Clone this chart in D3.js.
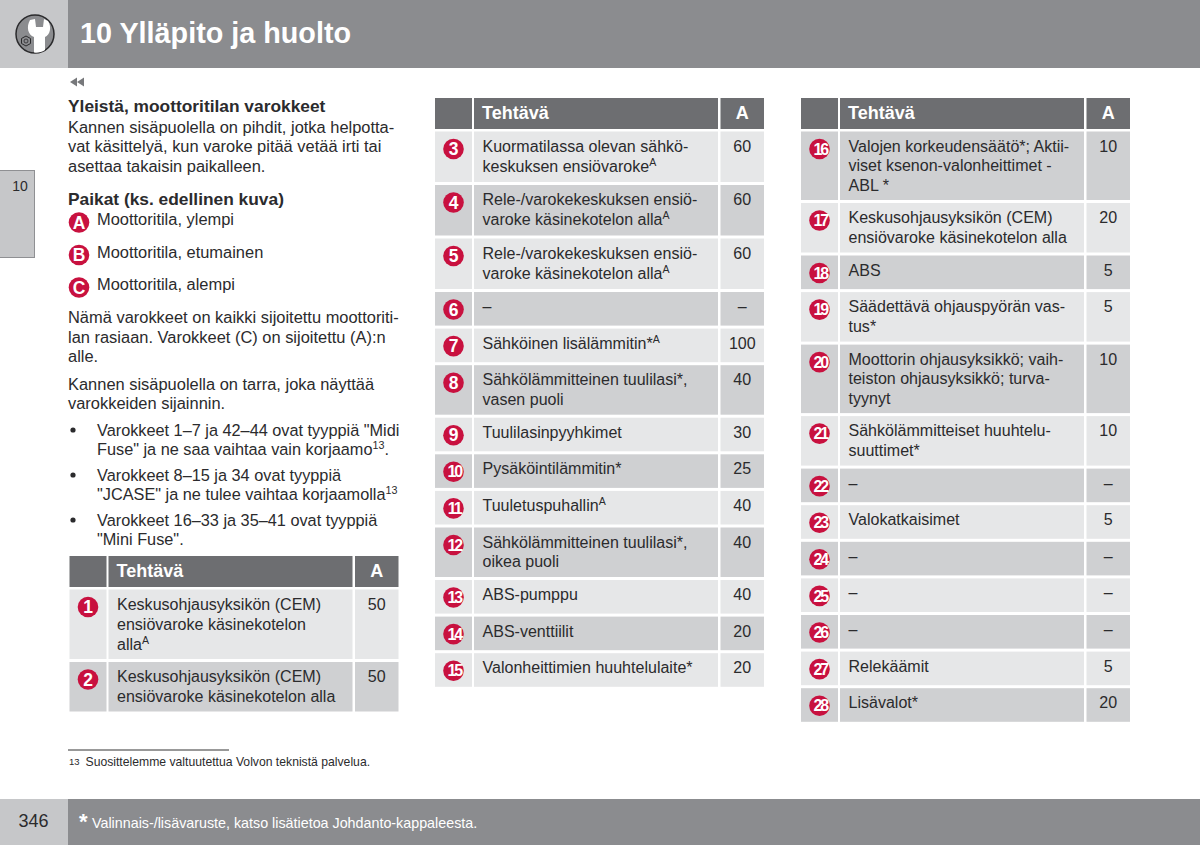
<!DOCTYPE html>
<html>
<head>
<meta charset="utf-8">
<script src="https://cdn.jsdelivr.net/npm/d3@7"></script>
<style>
  html, body { margin: 0; padding: 0; background: #fff; }
  svg { display: block; }
  text { font-family: "Liberation Sans", Arial, sans-serif; }
</style>
</head>
<body>
<div id="page"></div>
<script>
// Données des trois tableaux (^A = exposant)
const fuseNumbersLeft = [1, 2];
const fuseNumbersMiddle = [3, 4, 5, 6, 7, 8, 9, 10, 11, 12, 13, 14, 15];
const fuseNumbersRight = [16, 17, 18, 19, 20, 21, 22, 23, 24, 25, 26, 27, 28];

const fuseTasksLeft = [
  ["Keskusohjausyksikön (CEM)", "ensiövaroke käsinekotelon", "alla^A"],
  ["Keskusohjausyksikön (CEM)", "ensiövaroke käsinekotelon alla"],
];
const fuseTasksMiddle = [
  ["Kuormatilassa olevan sähkö-", "keskuksen ensiövaroke^A"],
  ["Rele-/varokekeskuksen ensiö-", "varoke käsinekotelon alla^A"],
  ["Rele-/varokekeskuksen ensiö-", "varoke käsinekotelon alla^A"],
  ["–"],
  ["Sähköinen lisälämmitin*^A"],
  ["Sähkölämmitteinen tuulilasi*,", "vasen puoli"],
  ["Tuulilasinpyyhkimet"],
  ["Pysäköintilämmitin*"],
  ["Tuuletuspuhallin^A"],
  ["Sähkölämmitteinen tuulilasi*,", "oikea puoli"],
  ["ABS-pumppu"],
  ["ABS-venttiilit"],
  ["Valonheittimien huuhtelulaite*"],
];
const fuseTasksRight = [
  ["Valojen korkeudensäätö*; Aktii-", "viset ksenon-valonheittimet -", "ABL *"],
  ["Keskusohjausyksikön (CEM)", "ensiövaroke käsinekotelon alla"],
  ["ABS"],
  ["Säädettävä ohjauspyörän vas-", "tus*"],
  ["Moottorin ohjausyksikkö; vaih-", "teiston ohjausyksikkö; turva-", "tyynyt"],
  ["Sähkölämmitteiset huuhtelu-", "suuttimet*"],
  ["–"],
  ["Valokatkaisimet"],
  ["–"],
  ["–"],
  ["–"],
  ["Relekäämit"],
  ["Lisävalot*"],
];

const ampsLeft = ["50", "50"];
const ampsMiddle = ["60", "60", "60", "–", "100", "40", "30", "25", "40", "40", "40", "20", "20"];
const ampsRight = ["10", "20", "5", "5", "10", "10", "–", "5", "–", "–", "–", "5", "20"];

const headerLabels = ["", "Tehtävä", "A"];

// Textes de la colonne de gauche
const introLines = ["Kannen sisäpuolella on pihdit, jotka helpotta-", "vat käsittelyä, kun varoke pitää vetää irti tai", "asettaa takaisin paikalleen."];
const placeLetters = ["A", "B", "C"];
const placeNames = ["Moottoritila, ylempi", "Moottoritila, etumainen", "Moottoritila, alempi"];
const noteLines = ["Nämä varokkeet on kaikki sijoitettu moottoriti-", "lan rasiaan. Varokkeet (C) on sijoitettu (A):n", "alle."];
const labelLines = ["Kannen sisäpuolella on tarra, joka näyttää", "varokkeiden sijainnin."];
const bulletLines = [
  ["Varokkeet 1–7 ja 42–44 ovat tyyppiä \"Midi", "Fuse\" ja ne saa vaihtaa vain korjaamo^13^."],
  ["Varokkeet 8–15 ja 34 ovat tyyppiä", "\"JCASE\" ja ne tulee vaihtaa korjaamolla^13"],
  ["Varokkeet 16–33 ja 35–41 ovat tyyppiä", "\"Mini Fuse\"."],
];

// Couleurs
const stripGrey = "#8b8c8f";
const paleGrey = "#c6c7c9";
const headGrey = "#6d6e71";
const rowLight = "#e6e7e8";
const rowDark = "#cfd0d2";
const crimson = "#c8113f";
const ink = "#2b2b2d";

const width = 1200;
const height = 845;
const lineHeight = 19.5;
const rowGap = 3;
const bodySize = 16.45;
const bulletSize = 16.3;
const cellSize = 16.05;
// Hauteur d'une ligne de tableau selon le nombre de lignes de texte
const rowHeights = { 1: 33.6, 2: 49.5, 3: 68.5 };

const svg = d3.select("#page").append("svg").attr("width", width).attr("height", height);

// Texte avec exposant éventuel, puis retour à la ligne de base
function writeLine(sel, line, size) {
  const parts = line.split("^");
  sel.append("tspan").text(parts[0]);
  if (parts[1]) {
    sel.append("tspan")
      .attr("dy", -size * 0.35)
      .style("font-size", `${size * 0.66}px`)
      .text(parts[1]);
  }
  if (parts[2]) {
    sel.append("tspan").attr("dy", size * 0.35).text(parts[2]);
  }
}

function bodyText(x, y, line, size = bodySize) {
  const t = svg.append("text").attr("x", x).attr("y", y)
    .attr("fill", ink).style("font-size", `${size}px`);
  writeLine(t, line, size);
  return t;
}

function badge(parent, cx, cy, label) {
  const twoDigits = String(label).length > 1;
  parent.append("circle").attr("cx", cx).attr("cy", cy).attr("r", 10.3).attr("fill", crimson);
  parent.append("text")
    .attr("x", twoDigits ? cx + 0.8 : cx).attr("y", twoDigits ? cy + 5.6 : cy + 6)
    .attr("text-anchor", "middle")
    .attr("fill", "#fff")
    .style("font-weight", "bold")
    .style("font-size", twoDigits ? "16px" : "17.5px")
    .style("letter-spacing", twoDigits ? "-2px" : "0")
    .text(label);
}

// Bandeaux haut et bas
svg.append("rect").attr("width", 68).attr("height", 68).attr("fill", paleGrey);
svg.append("rect").attr("x", 68).attr("width", width - 68).attr("height", 68).attr("fill", stripGrey);
svg.append("rect").attr("y", 799).attr("width", 68).attr("height", 46).attr("fill", paleGrey);
svg.append("rect").attr("x", 68).attr("y", 799).attr("width", width - 68).attr("height", 46).attr("fill", stripGrey);

svg.append("text").attr("x", 80).attr("y", 42.5).attr("fill", "#fff")
  .style("font-size", "28.75px").style("font-weight", "bold").text("10 Ylläpito ja huolto");

// Icône clé + écrou
const icon = svg.append("g").attr("transform", "translate(35,34)");
icon.append("circle").attr("r", 19).attr("fill", stripGrey).attr("stroke", "#2a2a2c").attr("stroke-width", 1.5);
icon.append("path")
  .attr("d", "M-1,18.6 L-1,3 C-7,1 -9,-7 -5,-14 L0,-15 L1,-7 L8,-7 L9,-15 L13,-13 C17,-7 15,1 10,3 L10,16 C7,18 3,19 -1,18.6 Z")
  .attr("fill", "#fff");
icon.append("path")
  .attr("d", "M-13.5,4.5 L-9,2 L-4.5,4.5 L-4.5,9.5 L-9,12 L-13.5,9.5 Z")
  .attr("fill", "none").attr("stroke", "#2a2a2c").attr("stroke-width", 1);
icon.append("circle").attr("cx", -9).attr("cy", 7).attr("r", 2)
  .attr("fill", "none").attr("stroke", "#2a2a2c").attr("stroke-width", 0.8);

// Onglet latéral
svg.append("rect").attr("x", -1).attr("y", 170.5).attr("width", 35.5).attr("height", 87)
  .attr("fill", paleGrey).attr("stroke", "#8f9093");
svg.append("text").attr("x", 20).attr("y", 191).attr("text-anchor", "middle")
  .attr("fill", ink).style("font-size", "14px").text("10");

// Flèches de retour
[70, 77].forEach((x) => {
  svg.append("path").attr("d", `M${x},82 L${x + 7},77.5 L${x + 7},86.5 Z`).attr("fill", "#77787b");
});

// Colonne de gauche
const headingStyle = (t) => t.style("font-weight", "bold").style("font-size", "17.35px");
headingStyle(bodyText(68, 112, "Yleistä, moottoritilan varokkeet"));
introLines.forEach((l, i) => bodyText(68, [133, 152, 172][i], l));
headingStyle(bodyText(68, 205, "Paikat (ks. edellinen kuva)"));
placeLetters.forEach((letter, i) => {
  badge(svg, 79, 222.5 + i * 32.5, letter);
  bodyText(97, 225 + i * 32.5, placeNames[i]);
});
noteLines.forEach((l, i) => bodyText(68, [323, 343, 362][i], l));
labelLines.forEach((l, i) => bodyText(68, [390, 409][i], l));
bulletLines.forEach((lines, i) => {
  const top = [436, 481, 526][i];
  svg.append("circle").attr("cx", 73).attr("cy", top - 6).attr("r", 2.6).attr("fill", ink);
  lines.forEach((l, j) => bodyText(97, top + j * 19.2, l, bulletSize));
});

// Tableaux
function drawTable(x0, y0, numbers, tasks, amps) {
  const g = svg.append("g");
  const rows = numbers.map((n, i) => ({ number: n, lines: tasks[i], amp: amps[i] }));

  // Colonnes : numéro, tâche, ampères
  const x = d3.scaleOrdinal().domain([0, 1, 2]).range([x0, x0 + 39, x0 + 285.5]);
  const w = d3.scaleOrdinal().domain([0, 1, 2]).range([37, 244, 43.5]);
  const headerHeight = 31;

  headerLabels.forEach((label, c) => {
    g.append("rect").attr("x", x(c)).attr("y", y0).attr("width", w(c)).attr("height", headerHeight).attr("fill", headGrey);
    g.append("text")
      .attr("x", c === 2 ? x(c) + w(c) / 2 : x(c) + 8)
      .attr("y", y0 + 21)
      .attr("text-anchor", c === 2 ? "middle" : "start")
      .attr("fill", "#fff")
      .style("font-weight", "bold")
      .style("font-size", "18px")
      .text(label);
  });

  let y = y0 + headerHeight + 2.5;
  rows.forEach((row) => {
    const n = row.lines.length;
    // les lignes à exposant sont un peu plus hautes
    const sup = n > 1 && row.lines.some((l) => l.includes("^")) ? 1 : 0;
    const h = rowHeights[n] + sup;
    const fill = row.number % 2 === 0 ? rowDark : rowLight;
    [0, 1, 2].forEach((c) => {
      g.append("rect").attr("x", x(c)).attr("y", y).attr("width", w(c)).attr("height", h).attr("fill", fill);
    });
    badge(g, x(0) + 18.5, y + 17.5, row.number);
    row.lines.forEach((l, j) => {
      const t = g.append("text").attr("x", x(1) + 8.5).attr("y", y + 20 + j * (lineHeight + sup / 2))
        .attr("fill", ink).style("font-size", `${cellSize}px`);
      writeLine(t, l, cellSize);
    });
    g.append("text").attr("x", x(2) + w(2) / 2).attr("y", y + 20)
      .attr("text-anchor", "middle").attr("fill", ink).style("font-size", `${cellSize}px`).text(row.amp);
    y += h + rowGap;
  });
}

drawTable(69.5, 556, fuseNumbersLeft, fuseTasksLeft, ampsLeft);
drawTable(435, 98, fuseNumbersMiddle, fuseTasksMiddle, ampsMiddle);
drawTable(801, 98, fuseNumbersRight, fuseTasksRight, ampsRight);

// Note de bas de page
svg.append("line").attr("x1", 68).attr("x2", 229).attr("y1", 750).attr("y2", 750).attr("stroke", "#333").attr("stroke-width", 1);
svg.append("text").attr("x", 69).attr("y", 765).attr("fill", ink).style("font-size", "9.5px").text("13");
svg.append("text").attr("x", 85.5).attr("y", 766).attr("fill", ink).style("font-size", "12.2px")
  .text("Suosittelemme valtuutettua Volvon teknistä palvelua.");

// Pied de page
svg.append("text").attr("x", 18.5).attr("y", 827).attr("fill", ink).style("font-size", "18px").text("346");
svg.append("text").attr("x", 79).attr("y", 829).attr("fill", "#fff").style("font-size", "22px").style("font-weight", "bold").text("*");
svg.append("text").attr("x", 92).attr("y", 828).attr("fill", "#fff").style("font-size", "14.3px")
  .text("Valinnais-/lisävaruste, katso lisätietoa Johdanto-kappaleesta.");
</script>
</body>
</html>
